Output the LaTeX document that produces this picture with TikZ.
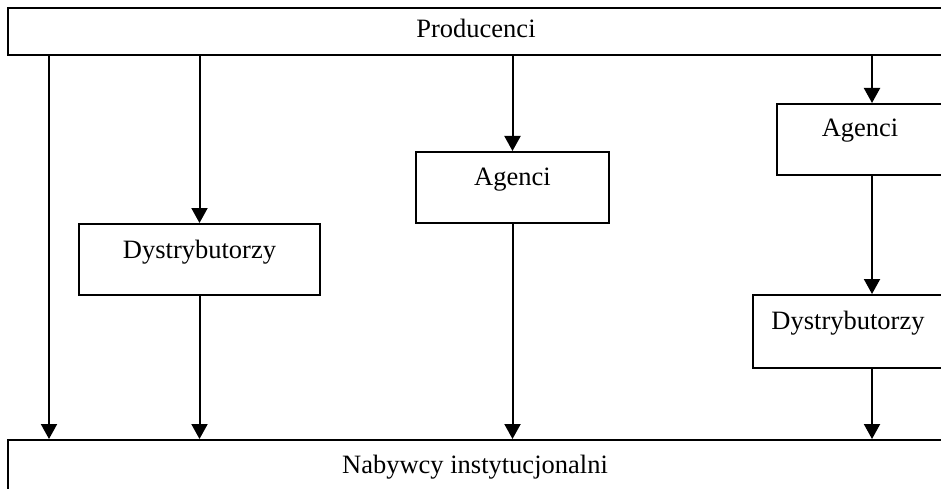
\documentclass[tikz,border=0pt]{standalone}
\usepackage{fontspec}
\setmainfont{Liberation Serif}
\usetikzlibrary{arrows.meta}
\tikzset{
  box/.style={draw, line width=2pt, rectangle, inner sep=0pt, anchor=north west},
  lbl/.style={anchor=base, inner sep=0pt, font=\fontsize{26.5}{30}\selectfont},
  arr/.style={line width=2pt, -{Triangle[length=15pt,width=16pt]}}
}
\begin{document}
\begin{tikzpicture}[x=1pt,y=-1pt]
\useasboundingbox (0,0) rectangle (941,489);
\clip (0,0) rectangle (941,489);
\fill[white] (0,0) rectangle (941,489);

% producers and institutional buyers (wide bars)
\node[box, minimum width=938pt, minimum height=47pt] (prod) at (7,7) {};
\node[lbl] (prodt) at (476,38) {Producenci};
\node[box, minimum width=938pt, minimum height=80pt] (nab) at (7,439) {};
\node[lbl] (nabt) at (475,473) {Nabywcy instytucjonalni};

% intermediaries
\node[box, minimum width=241pt, minimum height=71pt] (dl) at (78,223) {};
\node[lbl] (dlt) at (dl.north |- 0,258) {Dystrybutorzy};
\node[box, minimum width=193pt, minimum height=71pt] (am) at (415,151) {};
\node[lbl] (amt) at (am.north |- 0,185) {Agenci};
\node[box, minimum width=170pt, minimum height=71pt] (ar) at (776,103) {};
\node[lbl] (art) at (860,137) {Agenci};
\node[box, minimum width=194pt, minimum height=73pt] (dr) at (752,294) {};
\node[lbl] (drt) at (848,329) {Dystrybutorzy};

% channel x positions
\coordinate (c1) at (49,0);
\coordinate (c4) at (872,0);

% direct channel
\draw[arr] (prod.south -| c1) -- (nab.north -| c1);
% via distributors
\draw[arr] (prod.south -| dl.north) -- (dl.north);
\draw[arr] (dl.south) -- (nab.north -| dl.south);
% via agents
\draw[arr] (prod.south -| am.north) -- (am.north);
\draw[arr] (am.south) -- (nab.north -| am.south);
% via agents and distributors
\draw[arr] (prod.south -| c4) -- (ar.north -| c4);
\draw[arr] (ar.south -| c4) -- (dr.north -| c4);
\draw[arr] (dr.south -| c4) -- (nab.north -| c4);
\end{tikzpicture}
\end{document}
